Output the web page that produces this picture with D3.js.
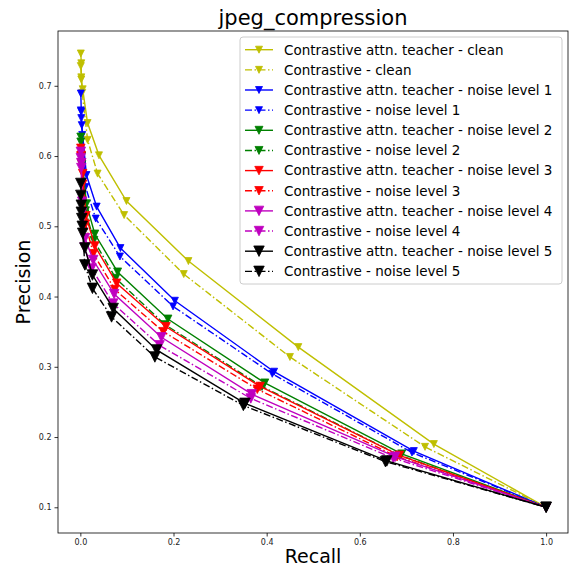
<!DOCTYPE html>
<html>
<head>
<meta charset="utf-8">
<script src="https://cdn.jsdelivr.net/npm/d3@7"></script>
<style>
  body { margin: 0; background: #fff; }
  svg { font-family: "DejaVu Sans", sans-serif; }
</style>
</head>
<body>
<script>
// Precision / recall values
var recallTeacherClean = [0.001, 0.002, 0.002, 0.005, 0.0155, 0.040, 0.099, 0.232, 0.468, 0.759, 1.0];
var precisionTeacherClean = [0.746, 0.732, 0.709, 0.695, 0.647, 0.601, 0.536, 0.4505, 0.328, 0.190, 0.100];
var recallClean = [0.001, 0.002, 0.004, 0.0155, 0.037, 0.094, 0.222, 0.450, 0.740, 1.0];
var precisionClean = [0.728, 0.712, 0.690, 0.623, 0.575, 0.516, 0.432, 0.314, 0.186, 0.100];

var recallTeacherN1 = [0.001, 0.002, 0.003, 0.013, 0.035, 0.086, 0.203, 0.416, 0.716, 1.0];
var precisionTeacherN1 = [0.689, 0.663, 0.644, 0.573, 0.528, 0.469, 0.394, 0.293, 0.180, 0.100];
var recallN1 = [0.001, 0.002, 0.004, 0.011, 0.033, 0.085, 0.199, 0.412, 0.712, 1.0];
var precisionN1 = [0.665, 0.654, 0.630, 0.556, 0.511, 0.457, 0.386, 0.290, 0.178, 0.100];

var recallTeacherN2 = [0.001, 0.003, 0.013, 0.031, 0.080, 0.188, 0.396, 0.690, 1.0];
var precisionTeacherN2 = [0.627, 0.600, 0.532, 0.489, 0.435, 0.368, 0.277, 0.176, 0.100];
var recallN2 = [0.001, 0.003, 0.011, 0.029, 0.076, 0.182, 0.390, 0.686, 1.0];
var precisionN2 = [0.620, 0.588, 0.522, 0.480, 0.426, 0.360, 0.272, 0.174, 0.100];

var recallTeacherN3 = [0.001, 0.002, 0.005, 0.012, 0.031, 0.078, 0.184, 0.386, 0.685, 1.0];
var precisionTeacherN3 = [0.611, 0.601, 0.575, 0.515, 0.472, 0.419, 0.357, 0.272, 0.174, 0.100];
var recallN3 = [0.001, 0.002, 0.005, 0.011, 0.028, 0.074, 0.178, 0.380, 0.680, 1.0];
var precisionN3 = [0.600, 0.590, 0.560, 0.503, 0.461, 0.410, 0.350, 0.268, 0.172, 0.100];

var recallTeacherN4 = [0.001, 0.002, 0.004, 0.010, 0.0275, 0.0726, 0.174, 0.368, 0.676, 1.0];
var precisionTeacherN4 = [0.606, 0.590, 0.535, 0.483, 0.452, 0.4035, 0.342, 0.261, 0.172, 0.100];
var recallN4 = [0.001, 0.002, 0.004, 0.009, 0.024, 0.0705, 0.170, 0.366, 0.672, 1.0];
var precisionN4 = [0.597, 0.583, 0.520, 0.470, 0.440, 0.390, 0.3305, 0.255, 0.170, 0.100];

var recallTeacherN5 = [0.001, 0.002, 0.003, 0.005, 0.0097, 0.026, 0.0705, 0.1637, 0.3534, 0.658, 1.0];
var precisionTeacherN5 = [0.561, 0.530, 0.511, 0.490, 0.469, 0.4306, 0.383, 0.324, 0.248, 0.166, 0.100];
var recallN5 = [0.001, 0.002, 0.004, 0.0097, 0.026, 0.067, 0.160, 0.350, 0.655, 1.0];
var precisionN5 = [0.544, 0.520, 0.500, 0.445, 0.4117, 0.371, 0.314, 0.245, 0.165, 0.100];

var seriesLabels = [
  "Contrastive attn. teacher - clean", "Contrastive - clean",
  "Contrastive attn. teacher - noise level 1", "Contrastive - noise level 1",
  "Contrastive attn. teacher - noise level 2", "Contrastive - noise level 2",
  "Contrastive attn. teacher - noise level 3", "Contrastive - noise level 3",
  "Contrastive attn. teacher - noise level 4", "Contrastive - noise level 4",
  "Contrastive attn. teacher - noise level 5", "Contrastive - noise level 5"
];
var xTicks = [0.0, 0.2, 0.4, 0.6, 0.8, 1.0];
var yTicks = [0.1, 0.2, 0.3, 0.4, 0.5, 0.6, 0.7];

var recalls = [recallTeacherClean, recallClean, recallTeacherN1, recallN1, recallTeacherN2, recallN2,
               recallTeacherN3, recallN3, recallTeacherN4, recallN4, recallTeacherN5, recallN5];
var precisions = [precisionTeacherClean, precisionClean, precisionTeacherN1, precisionN1, precisionTeacherN2, precisionN2,
                  precisionTeacherN3, precisionN3, precisionTeacherN4, precisionN4, precisionTeacherN5, precisionN5];

// styling
var levelColors = ["#bfbf00", "#0000ff", "#008000", "#ff0000", "#bf00bf", "#000000"];
var levelMarker = [7, 7, 8, 8.5, 9.5, 10.5];

var W = 571, H = 571;
var box = {left: 58, right: 568, top: 31, bottom: 533};

var svg = d3.select("body").append("svg")
    .attr("width", W)
    .attr("height", H);

var x = d3.scaleLinear().domain([-0.048, 1.047]).range([box.left, box.right]);
var y = d3.scaleLinear().domain([0.0634, 0.778]).range([box.bottom, box.top]);

var series = seriesLabels.map(function(name, i) {
    var lvl = Math.floor(i / 2);
    return {
        name: name,
        color: levelColors[lvl],
        size: levelMarker[lvl],
        dashed: i % 2 === 1,
        points: recalls[i].map(function(r, j) { return [r, precisions[i][j]]; })
    };
});

function tri(s) {
    var h = s / 2;
    return "M" + (-h) + "," + (-h) + "L" + h + "," + (-h) + "L0," + h + "Z";
}
var DASHDOT = "7,2.5,1.5,2.5";

var line = d3.line()
    .x(function(d) { return x(d[0]); })
    .y(function(d) { return y(d[1]); });

var plot = svg.append("g");

series.forEach(function(s) {
    var g = plot.append("g");
    g.append("path")
        .attr("d", line(s.points))
        .attr("fill", "none")
        .attr("stroke", s.color)
        .attr("stroke-width", 1.4)
        .attr("stroke-dasharray", s.dashed ? DASHDOT : null);
    g.selectAll("path.mk")
        .data(s.points)
        .enter()
        .append("path")
        .attr("class", "mk")
        .attr("d", tri(s.size))
        .attr("transform", function(d) { return "translate(" + x(d[0]) + "," + y(d[1]) + ")"; })
        .attr("fill", s.color)
        .attr("stroke", s.color)
        .attr("stroke-width", 0.8);
});

// axes
var xAxis = d3.axisBottom(x).tickValues(xTicks).tickFormat(d3.format(".1f")).tickSize(3.5).tickPadding(3);
var yAxis = d3.axisLeft(y).tickValues(yTicks).tickFormat(d3.format(".1f")).tickSize(3.5).tickPadding(3);

var gx = svg.append("g").attr("transform", "translate(0," + box.bottom + ")").call(xAxis);
var gy = svg.append("g").attr("transform", "translate(" + box.left + ",0)").call(yAxis);
[gx, gy].forEach(function(g) {
    g.select(".domain").remove();
    g.selectAll("text").attr("font-size", 8).attr("font-family", "DejaVu Sans").attr("fill", "#222");
    g.selectAll("line").attr("stroke", "#000").attr("stroke-width", 0.8);
});

svg.append("rect")
    .attr("x", box.left).attr("y", box.top)
    .attr("width", box.right - box.left).attr("height", box.bottom - box.top)
    .attr("fill", "none").attr("stroke", "#000").attr("stroke-width", 0.8);

svg.append("text")
    .attr("x", (box.left + box.right) / 2).attr("y", 25)
    .attr("text-anchor", "middle").attr("font-size", 21)
    .text("jpeg_compression");

svg.append("text")
    .attr("x", (box.left + box.right) / 2).attr("y", 563)
    .attr("text-anchor", "middle").attr("font-size", 19)
    .text("Recall");

svg.append("text")
    .attr("transform", "translate(30," + ((box.top + box.bottom) / 2) + ") rotate(-90)")
    .attr("text-anchor", "middle").attr("font-size", 19)
    .text("Precision");

// legend
var leg = svg.append("g");
leg.append("rect")
    .attr("x", 240).attr("y", 37).attr("width", 322).attr("height", 247)
    .attr("rx", 3).attr("fill", "#fff").attr("fill-opacity", 0.8)
    .attr("stroke", "#cccccc").attr("stroke-width", 1);

series.forEach(function(s, i) {
    var ly = 49.7 + i * 20.15;
    var row = leg.append("g").attr("transform", "translate(0," + ly + ")");
    row.append("line")
        .attr("x1", 245).attr("x2", 273).attr("y1", 0).attr("y2", 0)
        .attr("stroke", s.color).attr("stroke-width", 1.4)
        .attr("stroke-dasharray", s.dashed ? DASHDOT : null);
    row.append("path")
        .attr("d", tri(s.size))
        .attr("transform", "translate(259,0)")
        .attr("fill", s.color).attr("stroke", s.color).attr("stroke-width", 0.8);
    row.append("text")
        .attr("x", 284).attr("y", 0).attr("dy", "0.36em")
        .attr("font-size", 13.5)
        .text(s.name);
});
</script>
</body>
</html>
